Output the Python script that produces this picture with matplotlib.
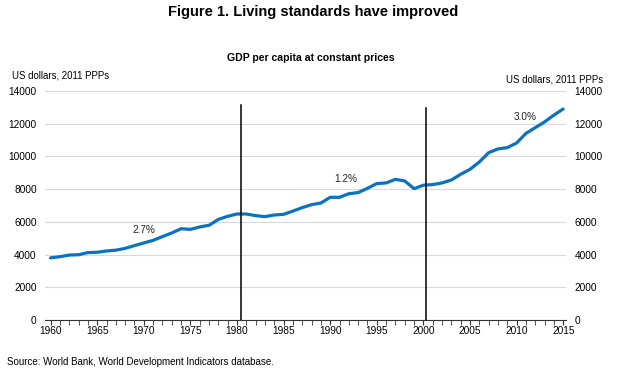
import numpy as np
import matplotlib
matplotlib.use("Agg")
import matplotlib.pyplot as plt
from matplotlib.ticker import MultipleLocator

plt.rcParams['font.family'] = ['Liberation Sans Narrow', 'Liberation Sans', 'DejaVu Sans']

# Datos
years = list(range(1960, 2016))
gdp = [3800, 3870, 3970, 3990, 4120, 4140, 4220, 4270, 4380, 4550,
       4710, 4870, 5100, 5320, 5580, 5540, 5690, 5790, 6150, 6340,
       6480, 6480, 6380, 6320, 6420, 6460, 6660, 6870, 7050, 7150,
       7500, 7500, 7720, 7790, 8050, 8340, 8380, 8600, 8500, 8030,
       8240, 8280, 8380, 8560, 8910, 9210, 9660, 10230, 10460, 10540,
       10820, 11410, 11760, 12110, 12530, 12900]

breaks = [1980.4, 2000.3]
break_tops = [13150, 12950]

growth_labels = ["2.7%", "1.2%", "3.0%"]
growth_x = [1970.0, 1991.7, 2010.9]
growth_y = [5500, 8620, 12430]

fig = plt.figure(figsize=(6.17, 3.71), dpi=100)
ax = fig.add_axes([45/617, 1-320/371, (566-45)/617, (320-91)/371])

ax.plot(years, gdp, color="#0b72c0", lw=2.3, solid_capstyle="round", zorder=3)
for b, t in zip(breaks, break_tops):
    ax.plot([b, b], [0, t], color="black", lw=1.1, zorder=4)
for lab, gx, gy in zip(growth_labels, growth_x, growth_y):
    ax.text(gx, gy, lab, fontsize=7.2, ha="center", va="center", color="#222222")

ax.set_xlim(1959.4, 2015.3)
ax.set_ylim(0, 14000)
ax.set_yticks(range(0, 14001, 2000))
ax.xaxis.set_major_locator(MultipleLocator(5))
ax.xaxis.set_minor_locator(MultipleLocator(1))
ax.grid(axis="y", color="#d9d9d9", lw=0.8)
ax.set_axisbelow(True)
for s in ["top", "left", "right"]:
    ax.spines[s].set_visible(False)
ax.spines["bottom"].set_color("#333333")
ax.tick_params(axis="x", which="both", direction="out", length=3.5, color="#333333",
               labelsize=7.3, pad=1)
ax.tick_params(axis="y", length=0, labelsize=7.3, labelright=True, pad=6)

fig.text(313/617, 1-12/371, "Figure 1. Living standards have improved", ha="center", va="center",
         fontsize=10.5, fontweight="bold", family=['Liberation Sans', 'DejaVu Sans'])
fig.text(311/617, 1-58/371, "GDP per capita at constant prices", ha="center", va="center",
         fontsize=7.6, fontweight="bold")
fig.text(12/617, 1-75/371, "US dollars, 2011 PPPs", ha="left", va="center", fontsize=6.9)
fig.text(603/617, 1-80/371, "US dollars, 2011 PPPs", ha="right", va="center", fontsize=6.9)
fig.text(7/617, 1-362/371, "Source: World Bank, World Development Indicators database.",
         ha="left", va="center", fontsize=7, family=['Liberation Sans', 'DejaVu Sans'])

fig.savefig("out.png", dpi=100)
